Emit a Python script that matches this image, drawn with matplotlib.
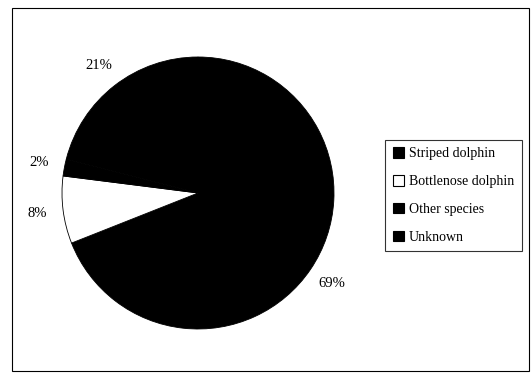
import matplotlib
matplotlib.use('Agg')
import matplotlib.pyplot as plt
from matplotlib.patches import Patch, Rectangle

plt.rcParams['font.family'] = ['Liberation Serif', 'DejaVu Serif']

species = ['Striped dolphin', 'Bottlenose dolphin', 'Other species', 'Unknown']
shares = [69, 8, 2, 21]
colors = ['black', 'white', 'black', 'black']

W, H = 532, 373
fig = plt.figure(figsize=(W / 100, H / 100), dpi=100)

# pie centre at (198, 180) px from bottom-left, radius ~136 px
r = 136.0
cx, cy = 198.0, 180.0
xr, yr = 1.4, 1.3
ax = fig.add_axes([(cx - xr * r) / W, (cy - yr * r) / H, 2 * xr * r / W, 2 * yr * r / H])
wedges, texts, autotexts = ax.pie(
    shares, colors=colors, startangle=90, counterclock=False,
    autopct='%1.0f%%', pctdistance=1.19,
    wedgeprops=dict(edgecolor='black', linewidth=0.6),
    textprops=dict(fontsize=10.5, color='black'),
)
ax.set_xlim(-xr, xr)
ax.set_ylim(-yr, yr)
ax.set_aspect('auto')
ax.axis('off')

handles = [Patch(facecolor=c, edgecolor='black', linewidth=0.8) for c in colors]
leg = fig.legend(handles, species, loc='center left',
                 bbox_to_anchor=(385 / W, 1 - 195.5 / H),
                 frameon=True, fancybox=False, fontsize=10,
                 handlelength=0.8, handleheight=0.8, handletextpad=0.35,
                 labelspacing=1.05, borderpad=0.55, borderaxespad=0)
leg.get_frame().set_edgecolor('black')
leg.get_frame().set_linewidth(0.8)

# outer frame around the whole chart
fig.patches.append(Rectangle((12 / W, 2 / H), 517 / W, 363 / H,
                             transform=fig.transFigure, fill=False,
                             edgecolor='black', linewidth=0.8))

fig.savefig('out.png', dpi=100)
